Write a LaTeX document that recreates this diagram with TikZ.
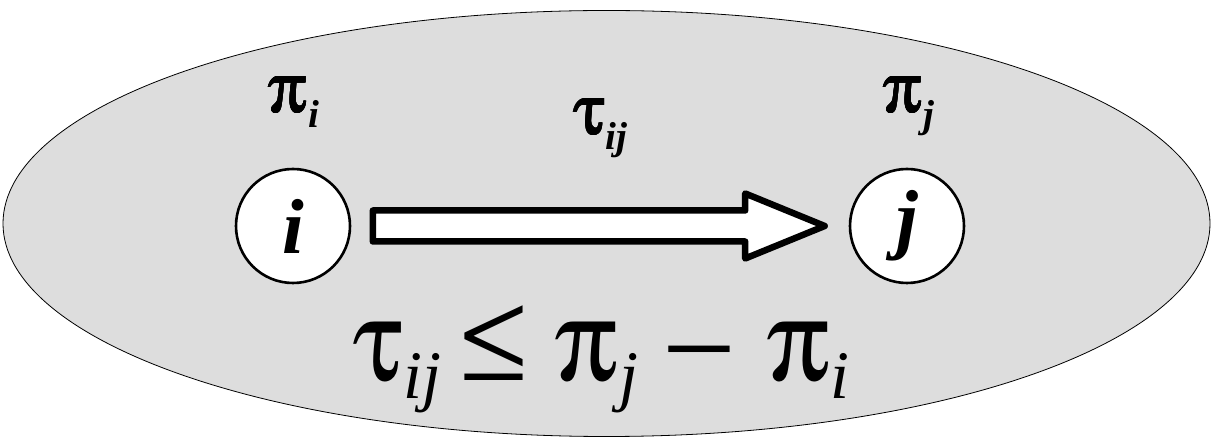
\documentclass[tikz,border=0pt]{standalone}
\usepackage{fontspec}
\setmainfont{Liberation Serif}
\usetikzlibrary{calc,shapes.geometric}
\definecolor{ellgray}{RGB}{221,221,221}
\newcommand{\symfont}{\fontencoding{U}\fontfamily{psy}\selectfont}
\newcommand{\sympi}{{\symfont\char"70}}
\newcommand{\symtau}{{\symfont\char"74}}
\newcommand{\symleq}{{\symfont\char"A3}}
\newcommand{\symminus}{{\symfont\char"2D}}
\newcommand{\fakebold}[1]{\makebox[0pt][l]{#1}\makebox[0pt][l]{\kern0.8pt#1}\makebox[0pt][l]{\kern1.6pt#1}\makebox[0pt][l]{\raisebox{0.8pt}{#1}}\makebox[0pt][l]{\kern0.8pt\raisebox{0.8pt}{#1}}\makebox[0pt][l]{\kern1.6pt\raisebox{0.8pt}{#1}}\kern1.6pt#1}
\tikzset{
  vertex/.style={circle, draw=black, line width=2.6pt, fill=white, minimum size=114pt, inner sep=0pt, font=\fontsize{78}{78}\selectfont\bfseries\itshape},
  hollowarrow/.style={draw=black, fill=white, line width=6.5pt, line join=round},
  toplabel/.style={anchor=base, inner sep=0pt, font=\fontsize{72}{72}\selectfont},
  formula/.style={anchor=base, inner sep=0pt, font=\fontsize{117}{117}\selectfont}
}
\newcommand{\subb}[1]{\raisebox{-0.2em}{\fontsize{39}{39}\selectfont\bfseries\itshape #1}}
\newcommand{\subf}[1]{\raisebox{-0.15em}{\fontsize{68}{68}\selectfont\itshape #1}}
\begin{document}
\begin{tikzpicture}[x=1pt,y=1pt]
\useasboundingbox (0,0) rectangle (1213,439);
\node[ellipse, draw=black, line width=0.8pt, fill=ellgray, minimum width=1207pt, minimum height=426pt, inner sep=0pt] (ell) at (606.5,215.5) {};
\node[vertex] (i) at (293,213) {i};
\node[vertex] (j) at (907,213) {j};
\draw[hollowarrow] ($(i.east)+(21.5,15.5)$) -- ($(j.west)+(-103.5,15.5)$) -- ($(j.west)+(-103.5,32.5)$) -- ($(j.west)+(-24,0)$) -- ($(j.west)+(-103.5,-32.5)$) -- ($(j.west)+(-103.5,-15.5)$) -- ($(i.east)+(21.5,-15.5)$) -- cycle;
\node[toplabel] (pii) at (293,326) {\fakebold{\sympi}\subb{i}};
\node[toplabel] (tau) at (600,304) {\fakebold{\symtau}\subb{ij}};
\node[toplabel] (pij) at (908,326) {\fakebold{\sympi}\subb{j}};
\node[formula] (eq) at (601,58) {\symtau\subf{ij}\hspace{0.17em}\symleq\hspace{0.25em}\sympi\subf{j}\hspace{0.25em}\symminus\hspace{0.3em}\sympi\subf{i}};
\end{tikzpicture}
\end{document}
